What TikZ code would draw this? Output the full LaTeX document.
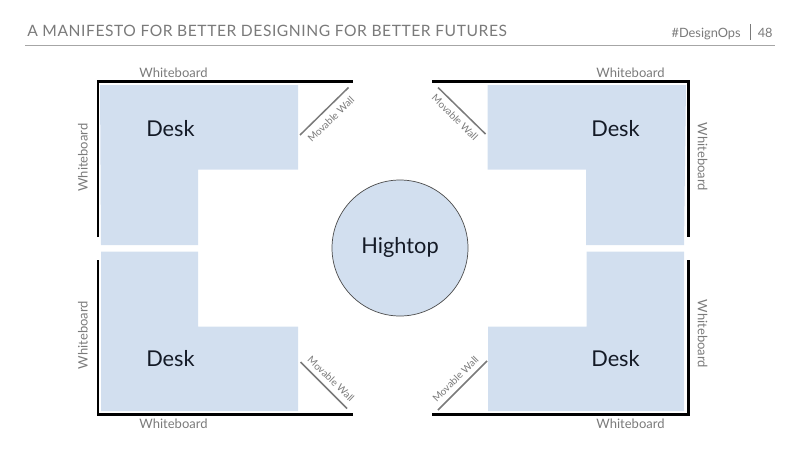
\documentclass[tikz,border=0pt]{standalone}
\usepackage{fontspec}
\setmainfont{Lato}
\definecolor{deskblue}{HTML}{D2DFEF}
\definecolor{labelgray}{HTML}{7A7A7A}
\definecolor{deskink}{HTML}{141A26}

\begin{document}
\begin{tikzpicture}[
        x=0.02cm, y=-0.02cm,
        desk/.style={fill=deskblue, draw=none},
        wall/.style={draw=black, line width=1.7pt, line cap=butt},
        movewall/.style={draw=labelgray, line width=0.85pt},
        deskname/.style={font=\fontsize{12.4pt}{14pt}\selectfont, text=deskink, inner sep=0pt},
        board/.style={font=\fontsize{7.4pt}{9pt}\selectfont, text=labelgray, inner sep=0pt},
        moveword/.style={font=\fontsize{5.7pt}{8pt}\selectfont, text=labelgray, inner sep=0pt}
    ]
    \useasboundingbox (0,0) rectangle (800,450);

    % Header
    \node[anchor=base west, inner sep=0pt, text=labelgray, font=\fontsize{8.9pt}{11pt}\selectfont\addfontfeatures{LetterSpace=3.5}] (title) at (27,36.5) {A MANIFESTO FOR BETTER DESIGNING FOR BETTER FUTURES};
    \draw[draw=black!35, line width=0.5pt] (25,45.5) -- (775,45.5);
    \node[anchor=base east, inner sep=0pt, text=labelgray, font=\fontsize{7.3pt}{9pt}\selectfont] (tag) at (741,37.5) {\#DesignOps};
    \node[anchor=base east, inner sep=0pt, text=labelgray, font=\fontsize{7.3pt}{9pt}\selectfont] (page) at (773,37.5) {48};
    \draw[draw=labelgray, line width=0.4pt] (750,24) -- (750,40);

    % Top left
    \fill[desk] (100,85) -- (298,85) -- (298,169.5) -- (198,169.5) -- (198,245) -- (101,245) -- cycle;
    \draw[wall] (98,237) -- (98,81.5) -- (353,81.5);
    \draw[movewall] (300,135) -- (348.5,87.5);
    \node[deskname] (desktl) at (170.5,128.5) {Desk};
    \node[board] (boardtl) at (173.5,72.5) {Whiteboard};
    \node[board, rotate=90] (sidetl) at (83,157.5) {Whiteboard};
    \node[moveword, rotate=44] (movetl) at (331,119.5) {Movable Wall};

    % Top right
    \fill[desk] (487.5,85) -- (686,85) -- (684,245) -- (586,245) -- (586,169.5) -- (487.5,169.5) -- cycle;
    \draw[wall] (432,81.5) -- (688.5,81.5) -- (688.5,237);
    \draw[movewall] (438,87.5) -- (485.5,134);
    \node[deskname] (desktr) at (615.5,128.5) {Desk};
    \node[board] (boardtr) at (630.5,72.5) {Whiteboard};
    \node[board, rotate=-90] (sidetr) at (702.5,157) {Whiteboard};
    \node[moveword, rotate=-45] (movetr) at (455,117.5) {Movable Wall};

    % Bottom left
    \fill[desk] (101,251.5) -- (198,251.5) -- (198,326.5) -- (298,326.5) -- (298,411) -- (101,411) -- cycle;
    \draw[wall] (98,260) -- (98,414) -- (353,414);
    \draw[movewall] (300.5,362) -- (347,408.5);
    \node[deskname] (deskbl) at (170.5,359) {Desk};
    \node[board] (boardbl) at (173.5,424) {Whiteboard};
    \node[board, rotate=90] (sidebl) at (83,335) {Whiteboard};
    \node[moveword, rotate=-44] (movebl) at (331,379) {Movable Wall};

    % Bottom right
    \fill[desk] (586.5,251.5) -- (684,251.5) -- (684,411) -- (488,411) -- (488,326.5) -- (586.5,326.5) -- cycle;
    \draw[wall] (432,414) -- (688.5,414) -- (688.5,259.5);
    \draw[movewall] (438,410) -- (487,361);
    \node[deskname] (deskbr) at (615.5,359) {Desk};
    \node[board] (boardbr) at (630.5,424) {Whiteboard};
    \node[board, rotate=-90] (sidebr) at (702.5,334) {Whiteboard};
    \node[moveword, rotate=45] (movebr) at (455.5,379) {Movable Wall};

    % Middle
    \node[circle, draw=black!70, fill=deskblue, line width=0.4pt, minimum size=136*0.02cm, inner sep=0pt] (hightop) at (400,248) {};
    \node[deskname] (hightopname) at (400,247.5) {Hightop};
\end{tikzpicture}
\end{document}
